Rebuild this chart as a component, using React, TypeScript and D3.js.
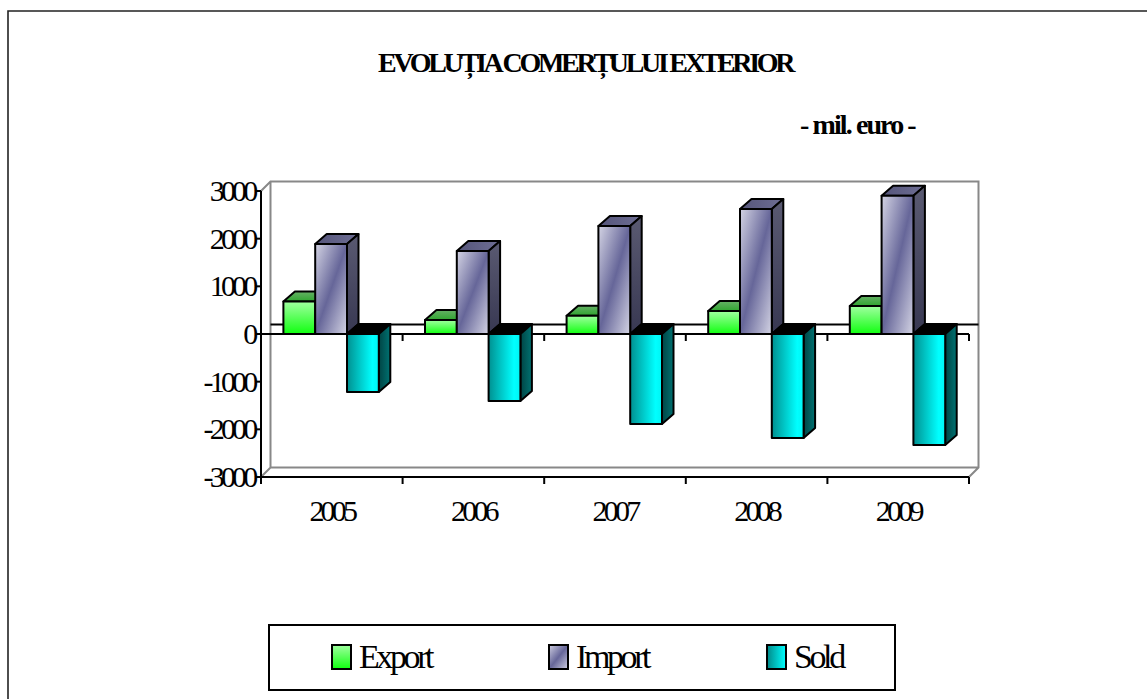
import React from "react";
import * as d3 from "d3";

const categories = ["2005", "2006", "2007", "2008", "2009"];
const seriesNames = ["Export", "Import", "Sold"];
const exportValues = [680, 293, 385, 480, 587];
const importValues = [1887, 1740, 2264, 2620, 2900];
const soldValues = [-1216, -1405, -1886, -2180, -2327];
const yTicks = [3000, 2000, 1000, 0, -1000, -2000, -3000];

const allValues = [exportValues, importValues, soldValues];
const W = 1147, H = 699;
const FONT = "'Liberation Serif', 'Times New Roman', serif";

const x0 = d3.scaleBand<string>().domain(categories).range([261, 969]);
const barW = 31.8;
const xs = d3.scaleBand<string>().domain(seriesNames).range([0, barW * 3]);
const y = d3.scaleLinear().domain([-3000, 3000]).range([477, 191]);
const DX = 11.5, DY = 10;
const wallDX = 9.5, wallDY = 9.5;

const top = ["url(#expTop)", "url(#impTop)", "#000"];
const front = ["url(#expFront)", "url(#impFront)", "url(#soldFront)"];
const side = ["#2f8f2f", "url(#impSide)", "url(#soldSide)"];

function Bar({ cat, si, v }: { cat: string; si: number; v: number }) {
  const bw = x0.bandwidth();
  const xa = x0(cat)! + (bw - barW * 3) / 2 - 0.7 + xs(seriesNames[si])!;
  const xb = xa + barW;
  const ya = y(v), yz = y(0);
  const yt = Math.min(ya, yz), yb = Math.max(ya, yz);
  const stroke = { stroke: "#000", strokeWidth: 2, strokeLinejoin: "round" as const };
  return (
    <g>
      <path d={`M${xa},${yt}L${xa + DX},${yt - DY}L${xb + DX},${yt - DY}L${xb},${yt}Z`} fill={top[si]} {...stroke} />
      <path d={`M${xb},${yt}L${xb + DX},${yt - DY}L${xb + DX},${yb - DY}L${xb},${yb}Z`} fill={side[si]} {...stroke} />
      <rect x={xa} y={yt} width={barW} height={yb - yt} fill={front[si]} {...stroke} />
    </g>
  );
}

export default function App() {
  const y0 = y(0);
  const tickXs = [...categories.map((c) => x0(c)!), x0.range()[1]];
  const textBase = { fontFamily: FONT, fill: "#000" };
  const legendXs = [332, 549, 767];
  const legendFill = ["url(#expFront)", "url(#impLegend)", "url(#soldLegend)"];
  const legendTextX = [359, 576, 794];
  return (
    <svg width={W} height={H} style={{ position: "absolute", left: 0, top: 0 }}>
      <defs>
        <linearGradient id="expFront" x1="0" y1="0" x2="0" y2="1">
          <stop offset="0" stopColor="#a0ffa0" />
          <stop offset="1" stopColor="#10ff10" />
        </linearGradient>
        <linearGradient id="expTop" x1="0" y1="0" x2="0" y2="1">
          <stop offset="0" stopColor="#66b066" />
          <stop offset="1" stopColor="#2fa52f" />
        </linearGradient>
        <linearGradient id="impFront" x1="0" y1="0" x2="1" y2="1">
          <stop offset="0" stopColor="#d4d4e4" />
          <stop offset="0.5" stopColor="#666699" />
          <stop offset="1" stopColor="#d4d4e4" />
        </linearGradient>
        <linearGradient id="impLegend" x1="0" y1="0" x2="1" y2="1">
          <stop offset="0" stopColor="#d0d0e2" />
          <stop offset="0.5" stopColor="#666699" />
          <stop offset="1" stopColor="#d0d0e2" />
        </linearGradient>
        <linearGradient id="impTop" x1="0" y1="0" x2="1" y2="0">
          <stop offset="0" stopColor="#55557a" />
          <stop offset="1" stopColor="#6e6e94" />
        </linearGradient>
        <linearGradient id="impSide" x1="0" y1="0" x2="0" y2="1">
          <stop offset="0" stopColor="#5a5a72" />
          <stop offset="1" stopColor="#383852" />
        </linearGradient>
        <linearGradient id="soldFront" x1="0" y1="0" x2="1" y2="0">
          <stop offset="0" stopColor="#009090" />
          <stop offset="0.8" stopColor="#00ffff" />
          <stop offset="1" stopColor="#00f4f4" />
        </linearGradient>
        <linearGradient id="soldLegend" x1="0" y1="0" x2="1" y2="0">
          <stop offset="0" stopColor="#008888" />
          <stop offset="1" stopColor="#00ffff" />
        </linearGradient>
        <linearGradient id="soldSide" x1="0" y1="0" x2="1" y2="0">
          <stop offset="0" stopColor="#004444" />
          <stop offset="1" stopColor="#007272" />
        </linearGradient>
      </defs>

      <rect width={W} height={H} fill="#fff" />
      <path d={`M8,${H}V11H${W}`} fill="none" stroke="#222" strokeWidth={1.6} />

      <text x={378} y={72} {...textBase} fontSize={28} fontWeight="bold" letterSpacing={-3.3}>EVOLUȚIA COMERȚULUI EXTERIOR</text>
      <text x={800} y={134} {...textBase} fontSize={28} fontWeight="bold" letterSpacing={-1.9}>- mil. euro -</text>

      <path
        d={`M${261},${y(3000)}L${261 + wallDX},${y(3000) - wallDY}H${969 + wallDX}V${477 - wallDY}L${969},${477}M${261},${477}L${261 + wallDX},${477 - wallDY}H${969 + wallDX}M${261 + wallDX},${y(3000) - wallDY}V${477 - wallDY}`}
        fill="none" stroke="#888" strokeWidth={2}
      />
      <line x1={261 + wallDX} x2={969 + wallDX} y1={y0 - wallDY} y2={y0 - wallDY} stroke="#000" strokeWidth={2} />

      <line x1={261} x2={261} y1={y(3000)} y2={477} stroke="#000" strokeWidth={2} />
      {yTicks.map((t) => (
        <g key={t}>
          <line x1={255} x2={261} y1={y(t)} y2={y(t)} stroke="#000" strokeWidth={2} />
          <text x={254.5} y={y(t) + 10} textAnchor="end" {...textBase} fontSize={30} letterSpacing={-3.8}>{t}</text>
        </g>
      ))}
      <line x1={261} x2={969} y1={477} y2={477} stroke="#000" strokeWidth={2} />
      {tickXs.map((tx) => (
        <line key={tx} x1={tx} x2={tx} y1={477} y2={484} stroke="#000" strokeWidth={2} />
      ))}

      <line x1={261} x2={969} y1={y0} y2={y0} stroke="#000" strokeWidth={2} />
      {tickXs.map((tx) => (
        <line key={tx} x1={tx} x2={tx} y1={y0} y2={y0 + 7} stroke="#000" strokeWidth={2} />
      ))}

      {categories.map((c, i) => (
        <g key={c}>
          {allValues.map((vals, si) => (
            <Bar key={si} cat={c} si={si} v={vals[i]} />
          ))}
        </g>
      ))}

      {categories.map((c) => (
        <text key={c} x={x0(c)! + x0.bandwidth() / 2} y={521} textAnchor="middle" {...textBase} fontSize={30} letterSpacing={-3.8}>{c}</text>
      ))}

      <rect x={269} y={625} width={626} height={65} fill="#fff" stroke="#000" strokeWidth={2} />
      {seriesNames.map((s, i) => (
        <g key={s}>
          <rect x={legendXs[i]} y={645} width={19} height={24} fill={legendFill[i]} stroke="#000" strokeWidth={2} />
          <text x={legendTextX[i]} y={668} {...textBase} fontSize={34} letterSpacing={-3.4}>{s}</text>
        </g>
      ))}
    </svg>
  );
}
